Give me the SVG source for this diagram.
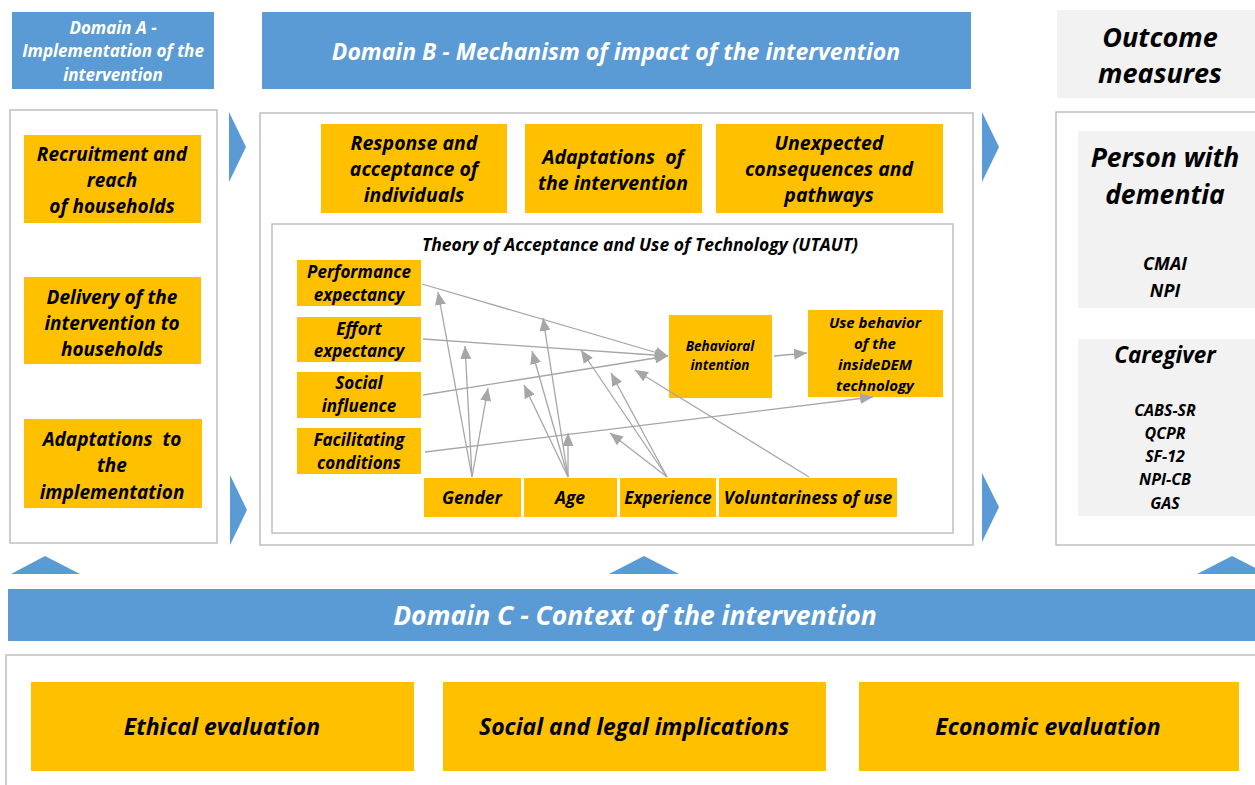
<svg xmlns="http://www.w3.org/2000/svg" width="1255" height="785" viewBox="0 0 1255 785">
<defs>
<style>
text{font-family:"Open Sans","Liberation Sans",sans-serif;font-weight:bold;font-style:italic;text-anchor:middle;fill:#000}
.w{fill:#fff}
.blue{fill:#5B9BD5}
.yel{fill:#FFC000}
.frame{fill:#fff;stroke:#bfbfbf;stroke-width:1.5}
.gray{fill:#f2f2f2}
.ln{stroke:#a6a6a6;stroke-width:1.3;fill:none;marker-end:url(#ah)}
</style>
<marker id="ah" markerUnits="userSpaceOnUse" markerWidth="13" markerHeight="11" refX="13" refY="5.5" orient="auto">
<path d="M0,0 L13,5.5 L0,11 Z" fill="#a6a6a6"/>
</marker>
</defs>
<rect width="1255" height="785" fill="#fff"/>

<g id="domainA-header">
<rect class="blue" x="12" y="12" width="202" height="77"/>
<text class="w" x="113" y="34" font-size="17">Domain A -</text>
<text class="w" x="113" y="57" font-size="17">Implementation of the</text>
<text class="w" x="113" y="81" font-size="17">intervention</text>
</g>
<g id="domainB-header">
<rect class="blue" x="262" y="12" width="709" height="77"/>
<text class="w" x="616" y="60" font-size="23">Domain B - Mechanism of impact of the intervention</text>
</g>
<g id="outcome-header">
<rect class="gray" x="1057" y="10" width="198" height="88"/>
<text x="1160" y="47" font-size="27">Outcome</text>
<text x="1160" y="83" font-size="27">measures</text>
</g>

<g id="domainA-frame"><rect class="frame" x="10" y="110" width="207" height="433"/></g>
<g id="domainB-frame"><rect class="frame" x="260" y="113" width="713" height="432"/></g>
<g id="outcome-frame"><rect class="frame" x="1056" y="112" width="210" height="433"/></g>

<g id="recruitment">
<rect class="yel" x="24" y="135" width="177" height="88"/>
<text x="112" y="161" font-size="19">Recruitment and</text>
<text x="112" y="187" font-size="19">reach</text>
<text x="112" y="213" font-size="19">of households</text>
</g>
<g id="delivery">
<rect class="yel" x="24" y="277" width="177" height="87"/>
<text x="112" y="304" font-size="19">Delivery of the</text>
<text x="112" y="330" font-size="19">intervention to</text>
<text x="112" y="356" font-size="19">households</text>
</g>
<g id="adapt-impl">
<rect class="yel" x="24" y="419" width="178" height="89"/>
<text x="112" y="446" font-size="19" xml:space="preserve">Adaptations  to</text>
<text x="112" y="472" font-size="19">the</text>
<text x="112" y="499" font-size="19">implementation</text>
</g>

<g id="response">
<rect class="yel" x="321" y="124" width="186" height="89"/>
<text x="414" y="150" font-size="19.5">Response and</text>
<text x="414" y="176" font-size="19.5">acceptance of</text>
<text x="414" y="202" font-size="19.5">individuals</text>
</g>
<g id="adapt-int">
<rect class="yel" x="525" y="124" width="177" height="89"/>
<text x="613" y="164" font-size="19.5" xml:space="preserve">Adaptations  of</text>
<text x="613" y="190" font-size="19.5">the intervention</text>
</g>
<g id="unexpected">
<rect class="yel" x="716" y="124" width="227" height="89"/>
<text x="829" y="150" font-size="19.5">Unexpected</text>
<text x="829" y="176" font-size="19.5">consequences and</text>
<text x="829" y="202" font-size="19.5">pathways</text>
</g>

<g id="utaut">
<rect class="frame" x="272" y="224" width="681" height="309"/>
<text x="640" y="251" font-size="17.5">Theory of Acceptance and Use of Technology (UTAUT)</text>
</g>

<g id="performance">
<rect class="yel" x="297" y="260" width="124" height="46"/>
<text x="359" y="278" font-size="17">Performance</text>
<text x="359" y="301" font-size="17">expectancy</text>
</g>
<g id="effort">
<rect class="yel" x="297" y="317" width="124" height="45"/>
<text x="359" y="335" font-size="17">Effort</text>
<text x="359" y="357" font-size="17">expectancy</text>
</g>
<g id="social">
<rect class="yel" x="297" y="372" width="124" height="46"/>
<text x="359" y="389" font-size="17">Social</text>
<text x="359" y="412" font-size="17">influence</text>
</g>
<g id="facilitating">
<rect class="yel" x="297" y="428" width="124" height="46"/>
<text x="359" y="446" font-size="17">Facilitating</text>
<text x="359" y="469" font-size="17">conditions</text>
</g>
<g id="gender">
<rect class="yel" x="424" y="478" width="97" height="39"/>
<text x="472" y="504" font-size="17.5">Gender</text>
</g>
<g id="age">
<rect class="yel" x="524" y="478" width="93" height="39"/>
<text x="570" y="504" font-size="17.5">Age</text>
</g>
<g id="experience">
<rect class="yel" x="620" y="478" width="96" height="39"/>
<text x="668" y="504" font-size="17">Experience</text>
</g>
<g id="voluntariness">
<rect class="yel" x="719" y="478" width="178" height="39"/>
<text x="808" y="504" font-size="17.5">Voluntariness of use</text>
</g>
<g id="behavioral">
<rect class="yel" x="669" y="315" width="103" height="83"/>
<text x="720" y="351" font-size="13.5">Behavioral</text>
<text x="720" y="370" font-size="13.5">intention</text>
</g>
<g id="usebehavior">
<rect class="yel" x="808" y="310" width="135" height="87"/>
<text x="875" y="328" font-size="15">Use behavior</text>
<text x="875" y="349" font-size="15">of the</text>
<text x="875" y="370" font-size="15">insideDEM</text>
<text x="875" y="391" font-size="15">technology</text>
</g>

<g id="outcome-person">
<rect class="gray" x="1078" y="131" width="177" height="177"/>
<text x="1165" y="167" font-size="26.5">Person with</text>
<text x="1165" y="204" font-size="26.5">dementia</text>
<text x="1165" y="270" font-size="18">CMAI</text>
<text x="1165" y="297" font-size="18">NPI</text>
</g>
<g id="outcome-caregiver">
<rect class="gray" x="1078" y="339" width="177" height="177"/>
<text x="1165" y="363" font-size="22.5">Caregiver</text>
<text x="1165" y="416" font-size="16">CABS-SR</text>
<text x="1165" y="439" font-size="16">QCPR</text>
<text x="1165" y="462" font-size="16">SF-12</text>
<text x="1165" y="485" font-size="16">NPI-CB</text>
<text x="1165" y="509" font-size="16">GAS</text>
</g>

<g id="domainC-header">
<rect class="blue" x="8" y="589" width="1247" height="52"/>
<text class="w" x="635" y="625" font-size="26.5">Domain C - Context of the intervention</text>
</g>
<g id="domainC-frame"><rect class="frame" x="6" y="655" width="1260" height="140"/></g>
<g id="ethical">
<rect class="yel" x="31" y="682" width="383" height="89"/>
<text x="222" y="735" font-size="23">Ethical evaluation</text>
</g>
<g id="social-legal">
<rect class="yel" x="443" y="682" width="383" height="89"/>
<text x="634" y="735" font-size="23">Social and legal implications</text>
</g>
<g id="economic">
<rect class="yel" x="859" y="682" width="380" height="89"/>
<text x="1048" y="735" font-size="23">Economic evaluation</text>
</g>

<g id="flow-arrows" fill="#5B9BD5">
<polygon points="229,112 246,147 229,182"/>
<polygon points="230,475 247,510 230,545"/>
<polygon points="982,112 999,147 982,182"/>
<polygon points="982,473 999,507 982,542"/>
<polygon points="11,574 45,556 80,574"/>
<polygon points="609,574 644,556 679,574"/>
<polygon points="1197,574 1232,556 1267,574"/>
</g>

<g id="connectors">
<line class="ln" x1="422" y1="284" x2="668" y2="356"/>
<line class="ln" x1="423" y1="339" x2="668" y2="356"/>
<line class="ln" x1="423" y1="395" x2="668" y2="356"/>
<line class="ln" x1="425" y1="452" x2="873" y2="397"/>
<line class="ln" x1="774" y1="356" x2="807" y2="353"/>
<line class="ln" x1="472" y1="477" x2="438" y2="292"/>
<line class="ln" x1="472" y1="477" x2="465" y2="346"/>
<line class="ln" x1="472" y1="477" x2="488" y2="388"/>
<line class="ln" x1="568" y1="477" x2="543" y2="318"/>
<line class="ln" x1="568" y1="477" x2="532" y2="351"/>
<line class="ln" x1="568" y1="477" x2="524" y2="385"/>
<line class="ln" x1="568" y1="477" x2="568" y2="433"/>
<line class="ln" x1="667" y1="477" x2="581" y2="350"/>
<line class="ln" x1="667" y1="477" x2="611" y2="373"/>
<line class="ln" x1="667" y1="477" x2="610" y2="433"/>
<line class="ln" x1="809" y1="477" x2="635" y2="370"/>
</g>
</svg>
